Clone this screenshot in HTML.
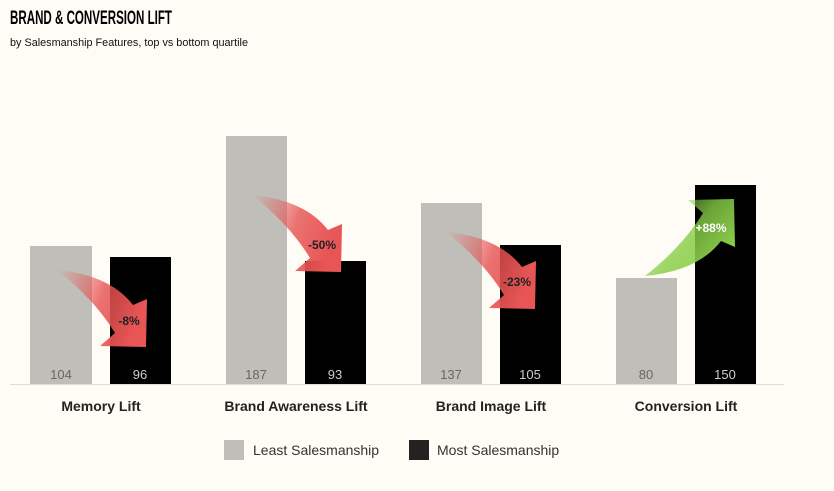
<!DOCTYPE html><html><head><style>
body{margin:0;background:#fffcf5;font-family:"Liberation Sans",sans-serif;}
</style></head><body>
<svg width="834" height="491" xmlns="http://www.w3.org/2000/svg" style="display:block">
<defs>
<linearGradient id="r" x1="0" y1="0" x2="1" y2="0.3"><stop offset="0" stop-color="#e85555" stop-opacity="0"/><stop offset="0.55" stop-color="#e55050" stop-opacity="0.8"/><stop offset="1" stop-color="#e85555"/></linearGradient>
<linearGradient id="g" x1="0" y1="1" x2="1" y2="0.3"><stop offset="0" stop-color="#8ed04a" stop-opacity="0"/><stop offset="0.55" stop-color="#86cc46" stop-opacity="0.8"/><stop offset="1" stop-color="#8fd24c"/></linearGradient>
<path id="ar" d="M0,0 Q53,5 76,35 L90,29 L89,77 L43,76 L58,63 Q38,30 0,0 Z"/>
</defs>
<rect width="834" height="491" fill="#fffcf5"/>
<text x="10" y="24" font-size="19" font-weight="bold" textLength="162" lengthAdjust="spacingAndGlyphs">BRAND &amp; CONVERSION LIFT</text>
<text x="10" y="46" font-size="11" fill="#111" textLength="238" lengthAdjust="spacingAndGlyphs">by Salesmanship Features, top vs bottom quartile</text>
<line x1="10" y1="384.5" x2="784" y2="384.5" stroke="#ddd"/>
<g fill="#c0beb9">
<rect x="30" y="246" width="62" height="138"/><rect x="226" y="136" width="61" height="248"/>
<rect x="421" y="203" width="61" height="181"/><rect x="616" y="278" width="61" height="106"/></g>
<g fill="#000">
<rect x="110" y="257" width="61" height="127"/><rect x="305" y="261" width="61" height="123"/>
<rect x="500" y="245" width="61" height="139"/><rect x="695" y="185" width="61" height="199"/></g>
<g font-size="13" text-anchor="middle" fill="#666">
<text x="61" y="379">104</text><text x="256" y="379">187</text><text x="451" y="379">137</text><text x="646" y="379">80</text></g>
<g font-size="13" text-anchor="middle" fill="#ccc">
<text x="140" y="379">96</text><text x="335" y="379">93</text><text x="530" y="379">105</text><text x="725" y="379">150</text></g>
<use href="#ar" fill="url(#r)" transform="translate(57,270)"/>
<use href="#ar" fill="url(#r)" transform="translate(252,195)"/>
<use href="#ar" fill="url(#r)" transform="translate(446,232)"/>
<use href="#ar" fill="url(#g)" transform="translate(645,276) scale(1,-1)"/>
<g font-size="12" font-weight="bold" text-anchor="middle" fill="#222">
<text x="129" y="325">-8%</text><text x="322" y="249">-50%</text><text x="517" y="286">-23%</text><text x="711" y="232" fill="#fff">+88%</text></g>
<g font-size="14" font-weight="bold" text-anchor="middle" fill="#222">
<text x="101" y="411">Memory Lift</text><text x="296" y="411">Brand Awareness Lift</text><text x="491" y="411">Brand Image Lift</text><text x="686" y="411">Conversion Lift</text></g>
<rect x="224" y="440" width="20" height="20" fill="#c0beb9"/>
<text x="253" y="455" font-size="14" fill="#333">Least Salesmanship</text>
<rect x="409" y="440" width="20" height="20" fill="#222"/>
<text x="437" y="455" font-size="14" fill="#333">Most Salesmanship</text>
</svg></body></html>
